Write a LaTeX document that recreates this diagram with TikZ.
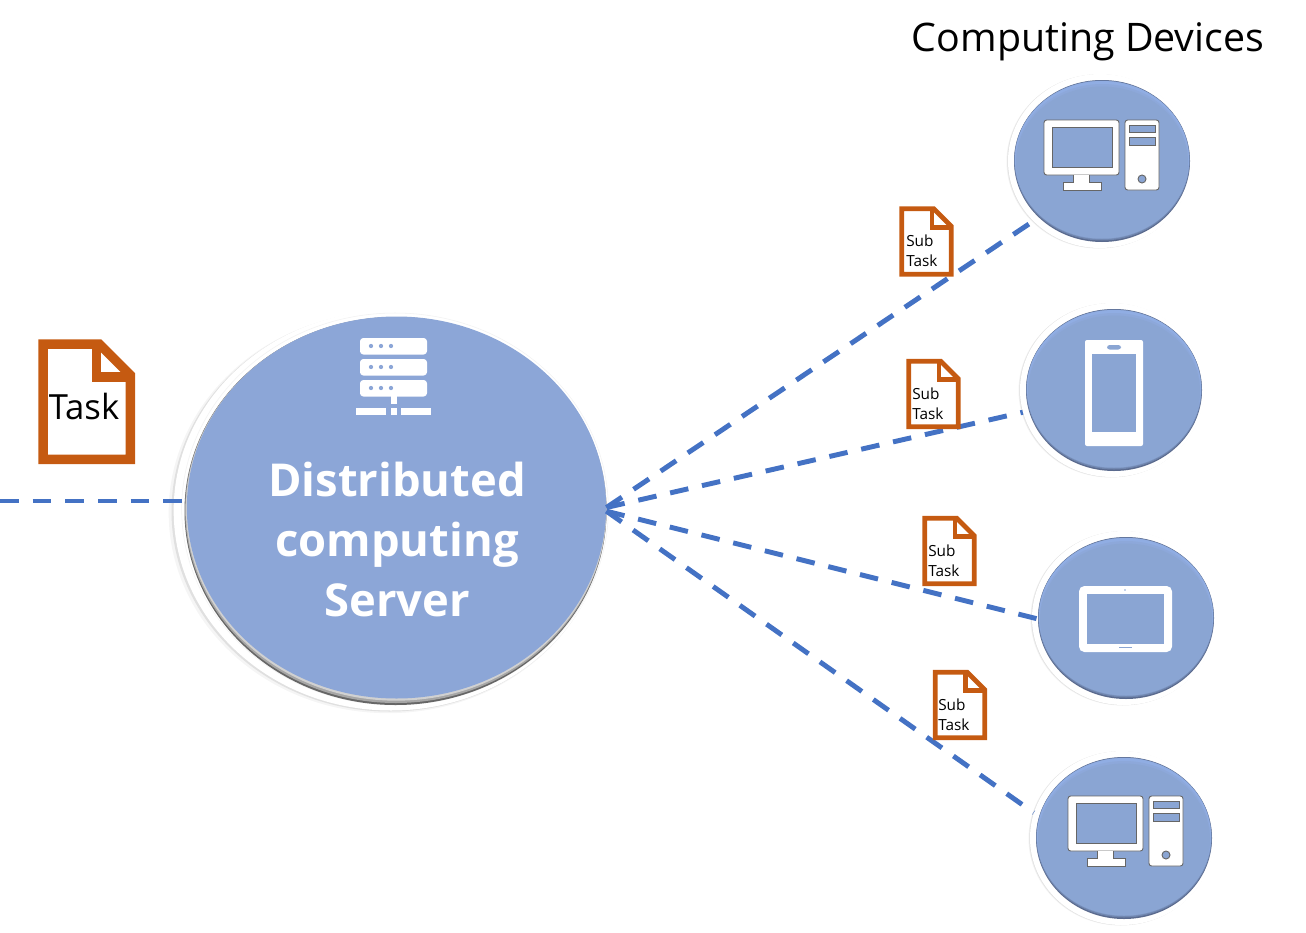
\documentclass[tikz,border=0pt]{standalone}
\usepackage{fontspec}
\setmainfont{Open Sans}
\usepackage{tikz}
\usetikzlibrary{positioning,shapes.geometric}
\definecolor{discblue}{HTML}{8AA5D3}
\definecolor{discrim}{HTML}{5A6A8E}
\definecolor{discmid}{HTML}{6F85AE}
\definecolor{discsoft}{HTML}{7F98C4}
\definecolor{disclight}{HTML}{90ADE3}
\definecolor{serverblue}{HTML}{8CA6D7}
\definecolor{linkblue}{HTML}{4472C4}
\definecolor{docorange}{HTML}{C55A11}
\tikzset{
    halo/.style={
           ellipse,
           fill=white,
           inner sep=0pt,
           minimum width=138pt,
           minimum height=130.5pt,
           },
    disc/.style={
           ellipse,
           fill=discblue,
           inner sep=0pt,
           minimum width=129pt,
           minimum height=114pt,
           },
    ring/.style={
           ellipse,
           inner sep=0pt,
           },
    link/.style={
           draw=linkblue,
           line width=3.7pt,
           dash pattern=on 14pt off 10.5pt,
           },
    iconpart/.style={
           fill=white,
           draw=black!60,
           line width=.7pt,
           },
    iconplain/.style={
           fill=white,
           },
    subtask/.style={
           font=\fontsize{11.5pt}{15pt}\selectfont,
           align=left,
           inner sep=0pt,
           },
    desktopicon/.pic={
           \draw[iconpart,rounded corners=2pt] (0,0) rectangle (75,55);
           \draw[iconpart,fill=discblue] (8,7) rectangle (68,47);
           \draw[iconpart] (29,55) -- (29,62) -- (19,62) -- (19,70) -- (57,70) -- (57,62) -- (45,62) -- (45,55);
           \draw[iconpart,rounded corners=2pt] (81,0) rectangle (115,70);
           \draw[iconpart,fill=discblue] (85,5) rectangle (111,12);
           \draw[iconpart,fill=discblue] (85,17) rectangle (111,25);
           \draw[iconpart,fill=discblue] (98,59) circle (3pt);
           },
    docicon/.pic={
           \draw[draw=docorange,line width=#1]
             (4.7,4.7) -- (60.9,4.7) -- (91.8,35.6) -- (91.8,119.8) -- (4.7,119.8) -- cycle;
           \draw[draw=docorange,line width=#1]
             (58,4.7) -- (58,37.5) -- (91.8,37.5);
           },
}

\begin{document}
\begin{tikzpicture}[x=.75pt,y=-.75pt]
 \useasboundingbox (0,0) rectangle (1306,932);

 % server circle, with its soft shadow and its rings
 \node[ring,fill=black!4,minimum width=329pt,minimum height=301pt] (SERVERSOFT) at (388,512.5) {};
 \node[ring,fill=black!12,minimum width=327pt,minimum height=300pt] (SERVERSHADOW) at (389.5,511.5) {};
 \node[ring,fill=white,minimum width=326pt,minimum height=300pt] (SERVERHALO) at (391,510.5) {};
 \node[ring,draw=black!5,minimum width=320pt,minimum height=294pt] (SERVERLINE) at (395,509) {};
 \node[ring,fill=black!60,minimum width=316.5pt,minimum height=291pt] (SERVERRIM) at (395.5,511) {};
 \node[ring,fill=black!35,minimum width=316pt,minimum height=289.5pt] (SERVERBAND) at (395.8,510) {};
 \node[ring,fill=black!18,minimum width=315.5pt,minimum height=287.5pt] (SERVERGLOW) at (396.2,509) {};
 \node[ring,fill=serverblue,minimum width=314.5pt,minimum height=286.5pt] (SERVER) at (396.5,507.5) {};

 % white backs of the devices
 \foreach \dev/\x/\y in {DEVA/1100/161,DEVB/1112/390,DEVC/1124/618,DEVD/1122/838} {
   \fill[black!5] (\x-1.5,\y+.5) ellipse [x radius=92,y radius=87];
   \fill[black!12] (\x-.7,\y+.2) ellipse [x radius=92,y radius=87];
   \node[halo] (\dev HALO) at (\x,\y) {};
 }

 % task going in, sub tasks going out
 \coordinate (TASKIN) at (0,501);
 \coordinate (DEVCIN) at (1038,619);
 \draw[link] (TASKIN) -- (SERVER.west |- TASKIN);
 \draw[link] (SERVER.east) -- (DEVAHALO.222.7);
 \draw[link] (SERVER.east) -- (DEVBHALO.194);
 \draw[link] (SERVER.-1.5) -- (DEVCIN);
 \draw[link] (SERVER.-1.5) -- (DEVDHALO.164);

 % device discs
 \foreach \dev/\x/\y in {DEVA/1102/161,DEVB/1114/390,DEVC/1126/618,DEVD/1124/838} {
   \fill[discrim] (\x,\y) ellipse [x radius=88,y radius=81];
   \fill[discmid] (\x,\y-.5) ellipse [x radius=87.7,y radius=80];
   \fill[discsoft] (\x,\y-1) ellipse [x radius=87.4,y radius=79.2];
   \fill[disclight] (\x,\y-1.5) ellipse [x radius=87,y radius=78.5];
   \fill[discblue!60!disclight] (\x,\y) ellipse [x radius=86.5,y radius=77];
   \node[disc] (\dev) at (\x,\y+1.5) {};
 }

 % icons
 \pic at (1044,120) {desktopicon};
 \pic at (1068,796) {desktopicon};

 \fill[iconplain,rounded corners=1.5pt] (1085,340) rectangle (1143,446);
 \fill[discblue] (1092,354) rectangle (1136,432);
 \fill[discblue,rounded corners=2pt] (1107,345) rectangle (1121,349.5);

 \fill[iconplain,rounded corners=4pt] (1079,586) rectangle (1172,652);
 \fill[discblue] (1087,594) rectangle (1164,644);
 \fill[discblue] (1119,646.5) rectangle (1132,648);
 \fill[discblue] (1125,590) circle (.7pt);

 \foreach \y in {338,359,380} {
   \fill[iconplain,rounded corners=2.5pt] (360,\y) rectangle (427,\y+16.5);
   \foreach \x in {371,381,391}
     \fill[serverblue] (\x,\y+8) circle (1.6pt);
 }
 \fill[iconplain] (391,396) rectangle (397,404);
 \fill[iconplain] (356,408) rectangle (386,415);
 \fill[iconplain] (391,408) rectangle (397,415);
 \fill[iconplain] (401,408) rectangle (431,415);

 % documents
 \pic[scale=1] at (38.5,339.5) {docicon=7.1pt};
 \pic[scale=.57] at (899,206) {docicon=3.6pt};
 \pic[scale=.57] at (906,358.5) {docicon=3.6pt};
 \pic[scale=.57] at (922,515.5) {docicon=3.6pt};
 \pic[scale=.57] at (932.5,669.5) {docicon=3.6pt};

 % texts
 \node[font=\fontsize{26pt}{30pt}\selectfont,inner sep=0pt] (TASK) at (84,406) {Task};
 \node[subtask,anchor=west] (SUBA) at (906,251) {Sub\\Task};
 \node[subtask,anchor=west] (SUBB) at (912,404) {Sub\\Task};
 \node[subtask,anchor=west] (SUBC) at (928,561) {Sub\\Task};
 \node[subtask,anchor=west] (SUBD) at (938,715) {Sub\\Task};
 \node[font=\fontsize{29.5pt}{32pt}\selectfont,inner sep=0pt] (TITLE) at (1088,42) {Computing Devices};
 \node[font=\bfseries\fontsize{34pt}{45pt}\selectfont,text=white,align=center,inner sep=0pt] (SERVERTEXT) at (397,539) {Distributed\\computing\\Server};
\end{tikzpicture}
\end{document}
